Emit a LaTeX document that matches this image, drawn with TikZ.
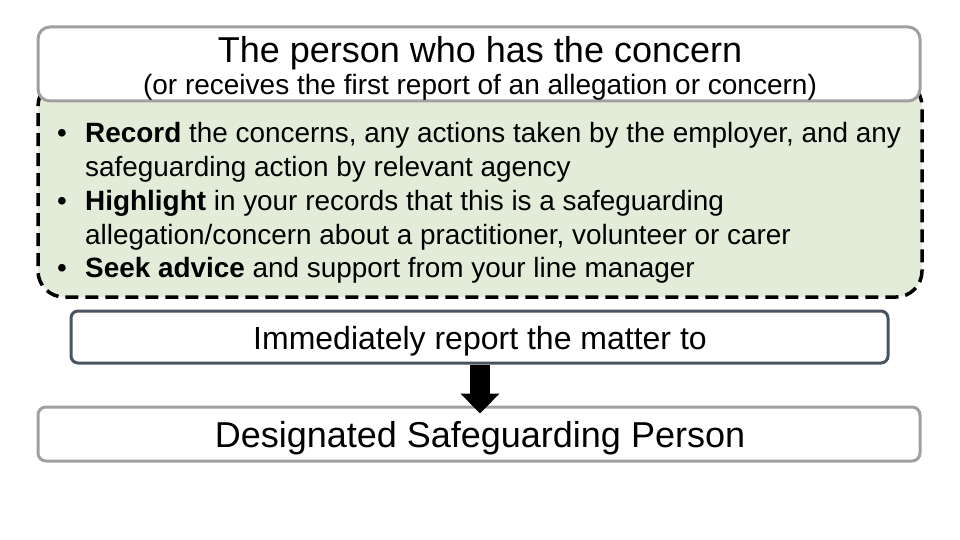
\documentclass[tikz,border=0pt]{standalone}
\usepackage{fontspec}
\setmainfont{Liberation Sans}
\usetikzlibrary{arrows.meta}
\definecolor{boxgray}{HTML}{A0A0A0}
\definecolor{slate}{HTML}{4A5360}
\definecolor{leaf}{HTML}{E2ECD8}
\tikzset{
  graybox/.style={draw=boxgray, line width=3pt, fill=white, rounded corners=#1, inner sep=0pt},
  slatebox/.style={draw=slate, line width=3pt, fill=white, rounded corners=7pt, inner sep=0pt},
  greenbox/.style={draw=black, line width=3.5pt, fill=leaf, rounded corners=26pt, dash pattern=on 13pt off 7pt, inner sep=0pt},
  label/.style={inner sep=0pt, anchor=base},
  bigarrow/.style={line width=20pt, -{Triangle[width=38pt,length=20pt]}, shorten >=-8pt}
}
\begin{document}
\begin{tikzpicture}[x=1pt,y=-1pt]
\useasboundingbox[fill=white] (0,0) rectangle (960,540);
\node[greenbox, minimum width=884pt, minimum height=217pt] (green) at (480,188.5) {};
\node[graybox=12pt, minimum width=882pt, minimum height=74pt] (top) at (479,64) {};
\node[label, font=\fontsize{36}{43}\selectfont] (title) at (480,63) {The person who has the concern};
\node[label, font=\fontsize{28}{34}\selectfont] (sub) at (480,95) {(or receives the first report of an allegation or concern)};
\node[inner sep=0pt, anchor=base west, font=\fontsize{27.9}{33.7}\selectfont] (list) at (57,143) {%
\begin{tabular}[t]{@{}l@{}l@{}}
\makebox[28pt][l]{\textbullet} & \textbf{Record} the concerns, any actions taken by the employer, and any\\
 & safeguarding action by relevant agency\\
\makebox[28pt][l]{\textbullet} & \textbf{Highlight} in your records that this is a safeguarding\\
 & allegation/concern about a practitioner, volunteer or carer\\
\makebox[28pt][l]{\textbullet} & \textbf{Seek advice} and support from your line manager
\end{tabular}};
\node[slatebox, minimum width=817pt, minimum height=52pt] (report) at (479.5,337) {};
\node[label, font=\fontsize{32}{38}\selectfont] (reporttext) at (480,349) {Immediately report the matter to};
\node[graybox=8pt, minimum width=882pt, minimum height=54pt] (dsp) at (479,434) {};
\node[label, font=\fontsize{36}{43}\selectfont] (dsptext) at (480,447) {Designated Safeguarding Person};
\draw[bigarrow] (report.south -| 480,0) -- (dsp.north -| 480,0);
\end{tikzpicture}
\end{document}
